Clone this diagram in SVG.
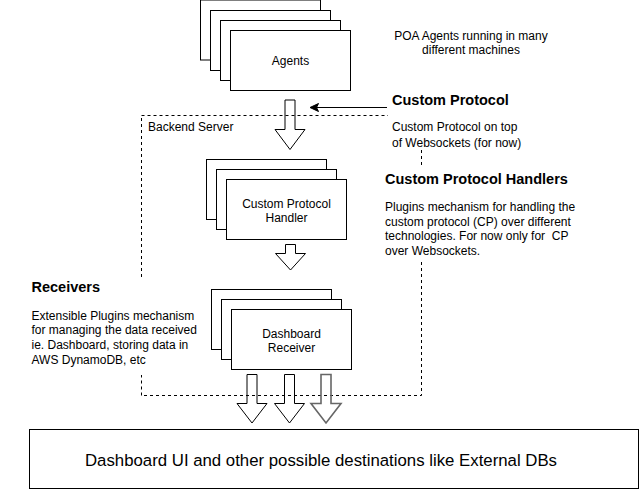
<svg xmlns="http://www.w3.org/2000/svg" width="641" height="490" viewBox="0 0 641 490">
<style>
  .card { fill: #ffffff; stroke: #000000; stroke-width: 1; }
  .t { font-family: "Liberation Sans", Arial, Helvetica, sans-serif; font-size: 12px; fill: #000000; }
  .c { text-anchor: middle; }
  .h { font-family: "Liberation Sans", Arial, Helvetica, sans-serif; font-size: 14.5px; font-weight: bold; fill: #000000; }
  .dash { fill: none; stroke: #000000; stroke-width: 1; stroke-dasharray: 3 3; }
  .barrow { fill: none; stroke: #000000; stroke-width: 1; stroke-linejoin: miter; }
  .barrow-grey { fill: none; stroke: #666666; stroke-width: 1.6; stroke-linejoin: miter; }
</style>
<rect x="0" y="0" width="641" height="490" fill="#ffffff"/>

<g id="backend-boundary">
  <path class="dash" d="M141.5,115.5 H388 M421.5,150 V168 M421.5,262 V395.5 H141.5 M141.5,395.5 V375 M141.5,277 V115.5"/>
  <text class="t" x="148" y="131">Backend Server</text>
</g>

<g id="agents">
  <rect class="card" x="200.5" y="0" width="120" height="60"/>
  <rect class="card" x="210.5" y="10.5" width="120" height="60"/>
  <rect class="card" x="220.5" y="20.5" width="120" height="60"/>
  <rect class="card" x="230.5" y="30.5" width="120" height="60"/>
  <text class="t c" x="290.5" y="64.5">Agents</text>
</g>

<g id="handler">
  <rect class="card" x="206.5" y="159.5" width="120" height="60"/>
  <rect class="card" x="216.5" y="169.5" width="120" height="60"/>
  <rect class="card" x="226.5" y="179.5" width="120" height="60"/>
  <text class="t c" x="286.5" y="207.5">Custom Protocol</text>
  <text class="t c" x="286.5" y="221.5">Handler</text>
</g>

<g id="receiver">
  <rect class="card" x="211.5" y="289.5" width="120" height="60"/>
  <rect class="card" x="221.5" y="299.5" width="120" height="60"/>
  <rect class="card" x="231.5" y="309.5" width="120" height="60"/>
  <text class="t c" x="291.5" y="337.5">Dashboard</text>
  <text class="t c" x="291.5" y="351.5">Receiver</text>
</g>

<g id="destinations">
  <rect class="card" x="29.5" y="429.5" width="609" height="59"/>
  <text class="t c" x="321" y="465.5" style="font-size:16.8px">Dashboard UI and other possible destinations like External DBs</text>
</g>

<g id="note-agents">
  <text class="t c" x="471" y="39.5">POA Agents running in many</text>
  <text class="t c" x="471" y="53.5">different machines</text>
</g>

<g id="note-protocol">
  <text class="h" x="392" y="104.5">Custom Protocol</text>
  <text class="t" x="392" y="131">Custom Protocol on top</text>
  <text class="t" x="392" y="147">of Websockets (for now)</text>
</g>

<g id="note-handlers">
  <text class="h" x="385" y="183.5">Custom Protocol Handlers</text>
  <text class="t" x="385" y="211">Plugins mechanism for handling the</text>
  <text class="t" x="385" y="225.7">custom protocol (CP) over different</text>
  <text class="t" x="385" y="240.3" xml:space="preserve">technologies. For now only for  CP</text>
  <text class="t" x="385" y="255">over Websockets.</text>
</g>

<g id="note-receivers">
  <text class="h" x="31.5" y="292">Receivers</text>
  <text class="t" x="31.5" y="319.5">Extensible Plugins mechanism</text>
  <text class="t" x="31.5" y="334.2">for managing the data received</text>
  <text class="t" x="31.5" y="348.9">ie. Dashboard, storing data in</text>
  <text class="t" x="31.5" y="363.6">AWS DynamoDB, etc</text>
</g>

<g id="connectors">
  <path class="barrow" d="M285,100 H295 V129.5 H305 L290,149.5 L275,129.5 H285 Z"/>
  <path class="barrow" d="M285.5,244.5 H295.5 V253.5 H305.5 L290.5,270 L275.5,253.5 H285.5 Z"/>
  <path class="barrow" d="M247,374.5 H257 V403.5 H267 L252,423 L237,403.5 H247 Z"/>
  <path class="barrow" d="M284.5,374.5 H294.5 V403.5 H304.5 L289.5,423 L274.5,403.5 H284.5 Z"/>
  <path class="barrow-grey" d="M321,374.5 H331 V403.5 H341 L326,423 L311,403.5 H321 Z"/>
  <line x1="387" y1="107.5" x2="316" y2="107.5" stroke="#000000" stroke-width="1"/>
  <path d="M310,107.5 L318.5,103.5 L316.5,107.5 L318.5,111.5 Z" fill="#000000" stroke="#000000" stroke-width="1"/>
</g>
</svg>
